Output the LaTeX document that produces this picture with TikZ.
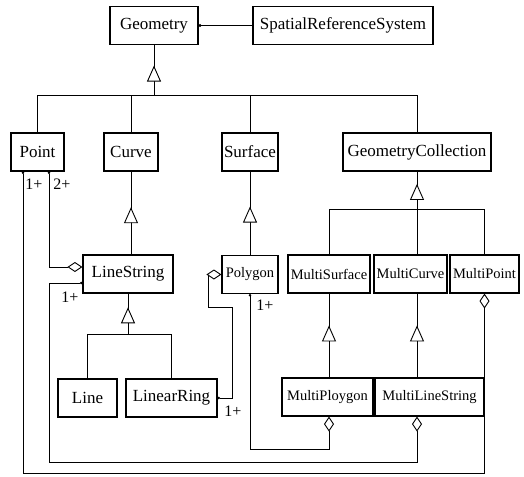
\documentclass[tikz,border=0pt]{standalone}
\usepackage{fontspec}
\setmainfont{Liberation Serif}
\usetikzlibrary{arrows.meta,decorations.markings}

\begin{document}
\begin{tikzpicture}[x=1pt,y=-1pt,
		line width=0.9pt,
		every node/.style={draw, line width=1.1pt, inner sep=0pt, minimum height=38pt, font=\fontsize{17}{20}\selectfont},
		small/.style={font=\fontsize{14.5}{17}\selectfont},
		lbl/.style={draw=none, minimum height=0pt, font=\fontsize{16}{18}\selectfont},
		gen/.style={postaction={decorate}, decoration={markings, mark=at position #1 with {\arrow{Triangle[fill=white,length=16pt,width=14pt]}}}},
		agg/.style={{Diamond[fill=white,length=15pt,width=10pt]}-{Circle[length=2.5pt]}}
		]
		\useasboundingbox (0,0) rectangle (524,476);
		
		% Classes
		\node (geom) at (154,25.5) [minimum width=88pt] {Geometry};
		\node (srs) at (343,25.5) [minimum width=180pt] {SpatialReferenceSystem};
		\node (point) at (37.5,152) [minimum width=53pt] {Point};
		\node (curve) at (131,152) [minimum width=54pt] {Curve};
		\node (surface) at (250,152) [minimum width=56pt] {Surface};
		\node (gcoll) at (417,152) [minimum width=148pt] {GeometryCollection};
		\node (linestr) at (128,274) [minimum width=90pt] {LineString};
		\node[small] (polygon) at (250,274.5) [minimum width=56pt] {Polygon};
		\node[small] (msurf) at (329,274) [minimum width=82pt] {MultiSurface};
		\node[small] (mcurve) at (410.5,274) [minimum width=73pt] {MultiCurve};
		\node[small] (mpoint) at (484.5,274) [minimum width=69pt] {MultiPoint};
		\node (line) at (87.5,398) [minimum width=59pt] {Line};
		\node (lring) at (171.5,398) [minimum width=91pt] {LinearRing};
		\node[small] (mpoly) at (327.5,397) [minimum width=91pt] {MultiPloygon};
		\node[small] (mls) at (429.5,397) [minimum width=109pt] {MultiLineString};
		
		% Helper coordinates
		\coordinate (geomj) at (154,95);
		\coordinate (lsj) at (128,334);
		\coordinate (gcj) at (417,209);
		\coordinate (railA) at (0,473);
		\coordinate (railB) at (0,462);
		\coordinate (railC) at (0,449);
		\coordinate (colA) at (23,0);
		\coordinate (colB) at (49,0);
		\coordinate (colC) at (208,307);
		\coordinate (colD) at (232,0);
		
		% Geometry and SpatialReferenceSystem
		\draw[-{Circle[length=3pt]}] (srs) -- (geom);
		
		% Subclasses of Geometry
		\draw[gen=0.59] (geomj) -- (geom);
		\draw (point) |- (gcoll |- geomj) -- (gcoll);
		\draw (curve) -- (curve |- geomj);
		\draw (surface) -- (surface |- geomj);
		
		% Curve, Surface
		\draw[gen=0.57] (linestr.north -| curve) -- (curve);
		\draw[gen=0.58] (polygon) -- (surface);
		
		% Subclasses of LineString
		\draw[gen=0.66] (lsj) -- (linestr);
		\draw (line) |- (lring |- lsj) -- (lring);
		
		% Subclasses of GeometryCollection
		\draw[gen=0.67] (gcj) -- (gcoll);
		\draw (msurf) |- (mpoint |- gcj) -- (mpoint);
		\draw (mcurve.north -| gcj) -- (gcj);
		\draw[gen=0.62] (mpoly.north -| msurf) -- (msurf);
		\draw[gen=0.62] (mls.north -| gcj) -- (mcurve.south -| gcj);
		
		% Aggregations
		\draw[agg] ([yshift=7pt]linestr.west) -| (colB |- point.south);
		\draw[agg] (mpoint) |- (railA -| colA) -- (colA |- point.south);
		\draw[agg] ([xshift=-12.5pt]mls.south) |- (railB -| colB) |- ([yshift=-9pt]linestr.west);
		\draw[agg] (mpoly.south -| msurf) |- (railC -| polygon) -- (polygon);
		\draw[agg] (polygon.west) -| (colC) -| (colD |- lring) -- (lring);
		
		% Multiplicities
		\node[lbl] (m1) at (34,184) {1+};
		\node[lbl] (m2) at (62,184) {2+};
		\node[lbl] (m3) at (70,297) {1+};
		\node[lbl] (m4) at (265,305) {1+};
		\node[lbl] (m5) at (233,411) {1+};
\end{tikzpicture}
\end{document}
